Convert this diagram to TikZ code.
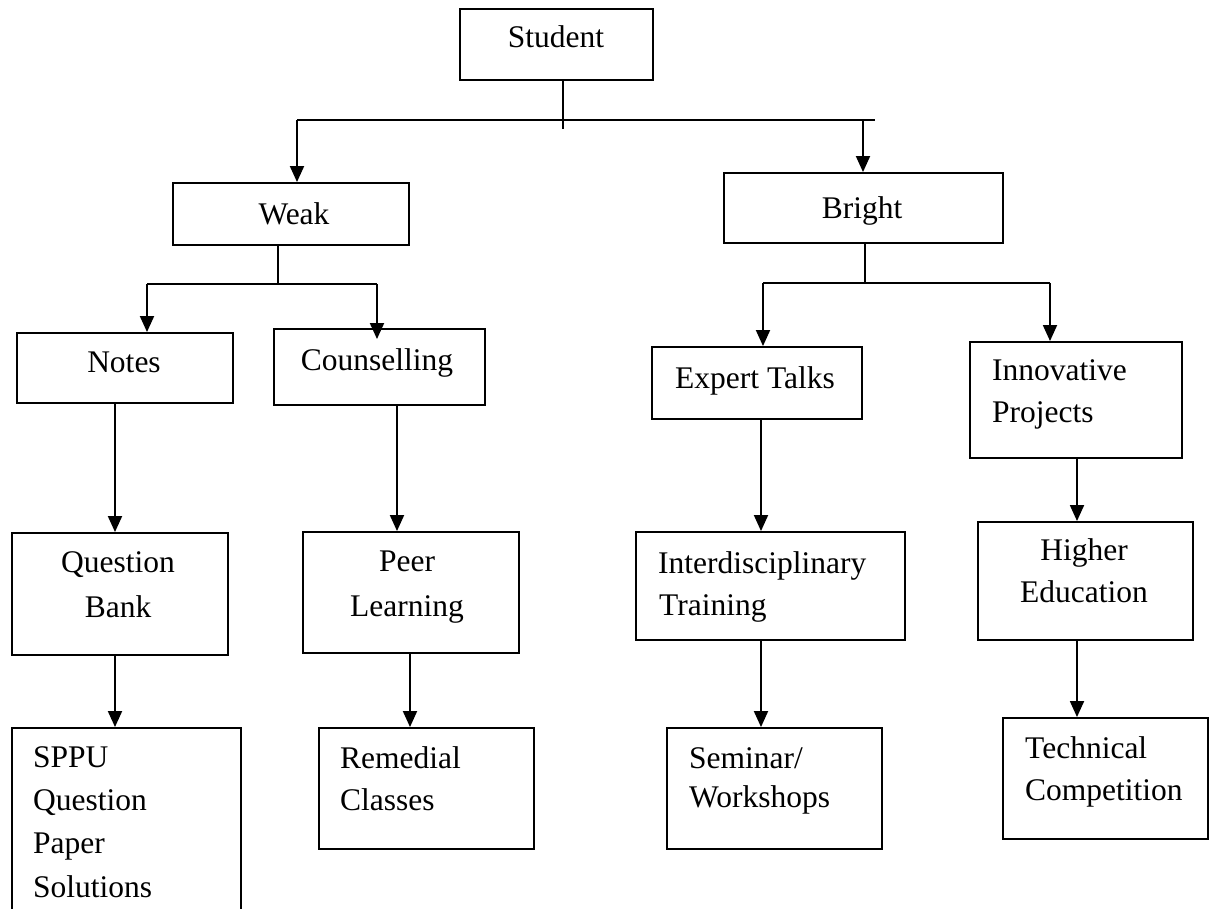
\documentclass[tikz,border=0pt]{standalone}
\usepackage{fontspec}
\setmainfont{Liberation Serif}
\usetikzlibrary{arrows.meta}
\begin{document}
\begin{tikzpicture}[x=1pt,y=-1pt,
  box/.style={draw,line width=1.9pt,inner sep=0pt,rectangle},
  lbl/.style={inner sep=0pt,font=\fontsize{31.5}{43}\selectfont},
  conn/.style={line width=1.9pt},
  arr/.style={line width=1.9pt,-{Triangle[width=14pt,length=16pt]}}]
\useasboundingbox[fill=white] (0,0) rectangle (1210,909);

% boxes
\node[box,minimum width=193pt,minimum height=71pt]  (student)  at (556.5,44.5) {};
\node[box,minimum width=236pt,minimum height=62pt]  (weak)     at (291,214) {};
\node[box,minimum width=279pt,minimum height=70pt]  (bright)   at (863.5,208) {};
\node[box,minimum width=216pt,minimum height=70pt]  (notes)    at (125,368) {};
\node[box,minimum width=211pt,minimum height=76pt]  (couns)    at (379.5,367) {};
\node[box,minimum width=210pt,minimum height=72pt]  (expert)   at (757,383) {};
\node[box,minimum width=212pt,minimum height=116pt] (innov)    at (1076,400) {};
\node[box,minimum width=216pt,minimum height=122pt] (qbank)    at (120,594) {};
\node[box,minimum width=216pt,minimum height=121pt] (peer)     at (411,592.5) {};
\node[box,minimum width=269pt,minimum height=108pt] (inter)    at (770.5,586) {};
\node[box,minimum width=215pt,minimum height=118pt] (higher)   at (1085.5,581) {};
\node[box,minimum width=229pt,minimum height=187pt] (sppu)     at (126.5,821.5) {};
\node[box,minimum width=215pt,minimum height=121pt] (remedial) at (426.5,788.5) {};
\node[box,minimum width=215pt,minimum height=121pt] (seminar)  at (774.5,788.5) {};
\node[box,minimum width=205pt,minimum height=121pt] (tech)     at (1105.5,778.5) {};

% texts
\node[lbl,anchor=base] (t1) at (556,48) {Student};
\node[lbl,anchor=base] (t2) at (294,225) {Weak};
\node[lbl,anchor=base] (t3) at (862,219) {Bright};
\node[lbl,anchor=base] (t4) at (124,372) {Notes};
\node[lbl,anchor=base] (t5) at (377,370) {Counselling};
\node[lbl,anchor=base] (t6) at (755,388) {Expert Talks};
\node[lbl,anchor=base west] (t7) at (992,380) {Innovative};
\node[lbl,anchor=base west] (t8) at (992,422) {Projects};
\node[lbl,anchor=base] (t9) at (118,572) {Question};
\node[lbl,anchor=base] (t10) at (118,617) {Bank};
\node[lbl,anchor=base] (t11) at (407,571) {Peer};
\node[lbl,anchor=base] (t12) at (407,616) {Learning};
\node[lbl,anchor=base west] (t13) at (658,573) {Interdisciplinary};
\node[lbl,anchor=base west] (t14) at (659,615) {Training};
\node[lbl,anchor=base] (t15) at (1084,560) {Higher};
\node[lbl,anchor=base] (t16) at (1084,602) {Education};
\node[lbl,anchor=base west] (t17) at (33,767) {SPPU};
\node[lbl,anchor=base west] (t18) at (33,810) {Question};
\node[lbl,anchor=base west] (t19) at (33,853) {Paper};
\node[lbl,anchor=base west] (t20) at (33,897) {Solutions};
\node[lbl,anchor=base west] (t21) at (340,768) {Remedial};
\node[lbl,anchor=base west] (t22) at (340,810) {Classes};
\node[lbl,anchor=base west] (t23) at (689,768) {Seminar/};
\node[lbl,anchor=base west] (t24) at (689,807) {Workshops};
\node[lbl,anchor=base west] (t25) at (1025,758) {Technical};
\node[lbl,anchor=base west] (t26) at (1025,800) {Competition};

% Student fork
\coordinate (sf) at (563,120);
\coordinate (sfe) at (563,129);
\coordinate (sl) at (297,120);
\coordinate (sr) at (863,120);
\coordinate (sre) at (875,120);
\draw[conn] (student.south -| sf) -- (sfe);
\draw[conn] (sl) -- (sre);
\draw[arr] (sl) -- (weak.north -| sl);
\draw[arr] (sr) -- (bright.north -| sr);

% Weak fork
\coordinate (wf) at (278,284);
\coordinate (wl) at (147,284);
\coordinate (wr) at (377,284);
\draw[conn] (weak.south -| wf) -- (wf);
\draw[conn] (wl) -- (wr);
\draw[arr] (wl) -- (notes.north -| wl);
\draw[arr] (wr) -- ([yshift=-11pt]couns.north -| wr);

% Bright fork
\coordinate (bf) at (865,283);
\coordinate (bl) at (763,283);
\coordinate (br) at (1050,283);
\draw[conn] (bright.south -| bf) -- (bf);
\draw[conn] (bl) -- (br);
\draw[arr] (bl) -- (expert.north -| bl);
\draw[arr] (br) -- (innov.north -| br);

% vertical chains
\coordinate (xa) at (115,0);
\coordinate (xb) at (397,0);
\coordinate (xc) at (761,0);
\coordinate (xd) at (1077,0);
\coordinate (xe) at (410,0);
\draw[arr] (notes.south -| xa) -- (qbank.north -| xa);
\draw[arr] (qbank.south -| xa) -- (sppu.north -| xa);
\draw[arr] (couns.south -| xb) -- (peer.north -| xb);
\draw[arr] (peer.south -| xe) -- (remedial.north -| xe);
\draw[arr] (expert.south -| xc) -- (inter.north -| xc);
\draw[arr] (inter.south -| xc) -- (seminar.north -| xc);
\draw[arr] (innov.south -| xd) -- (higher.north -| xd);
\draw[arr] (higher.south -| xd) -- (tech.north -| xd);
\end{tikzpicture}
\end{document}
